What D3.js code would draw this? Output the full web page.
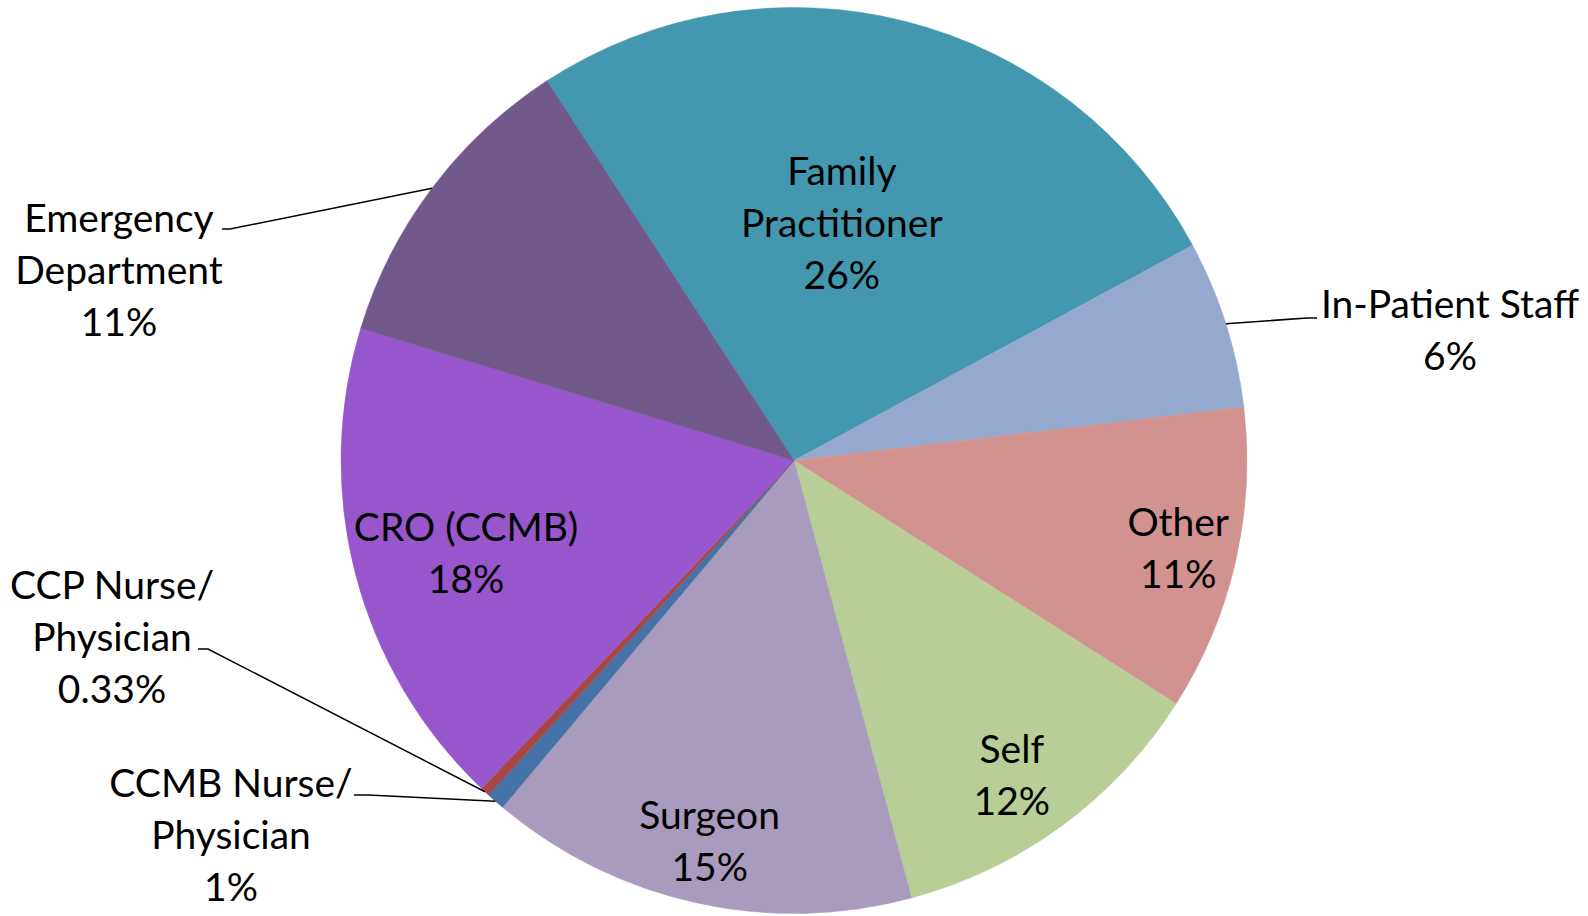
<!DOCTYPE html>
<html>
<head>
<meta charset="utf-8">
<script src="https://cdn.jsdelivr.net/npm/d3@7"></script>
<style>
  html, body { margin: 0; padding: 0; background: #fff; }
  svg { display: block; }
</style>
</head>
<body>
<div id="chart"></div>
<script>
// 紹介元ごとの割合 (%)
const categories = [
  'Family Practitioner',
  'In-Patient Staff',
  'Other',
  'Self',
  'Surgeon',
  'CCMB Nurse/ Physician',
  'CCP Nurse/ Physician',
  'CRO (CCMB)',
  'Emergency Department',
];
const values = [26.3, 6.0, 10.9, 11.8, 15.3, 0.66, 0.33, 17.6, 11.1];
const colors = [
  '#4398AF', '#95A9CF', '#D19290', '#B9CD96', '#A99BBD',
  '#4572A7', '#AA4643', '#9756CB', '#71598C',
];

// ラベルの行分け
const labelLines = {
  'Family Practitioner': ['Family', 'Practitioner'],
  'In-Patient Staff': ['In-Patient Staff'],
  'Other': ['Other'],
  'Self': ['Self'],
  'Surgeon': ['Surgeon'],
  'CCMB Nurse/ Physician': ['CCMB Nurse/', 'Physician'],
  'CCP Nurse/ Physician': ['CCP Nurse/', 'Physician'],
  'CRO (CCMB)': ['CRO (CCMB)'],
  'Emergency Department': ['Emergency', 'Department'],
};

const WIDTH = 1588;
const HEIGHT = 916;
const CX = 794;
const CY = 460.5;
const RADIUS = 453;
const LINE_H = 52;
const FONT_SIZE = 39;

// 円の内側に置くラベル: 中心からの距離 (半径比) と角度の補正 (度)
const insideLabels = {
  'Family Practitioner': { r: 0.535, da: -2.9 },
  'Other': { r: 0.87, da: 0 },
  'Self': { r: 0.845, da: 1.6 },
  'Surgeon': { r: 0.86, da: 0 },
  'CRO (CCMB)': { r: 0.752, da: -1 },
};
// 円の外側に置くラベル: 文字ブロックの中心と引き出し線の折れ位置
const outsideLabels = {
  'In-Patient Staff': { x: 1450, y: 330, kx: 1307, ky: 318, ex: 1317 },
  'Emergency Department': { x: 119, y: 270, kx: 230, ky: 229, ex: 222 },
  'CCP Nurse/ Physician': { x: 112, y: 637, kx: 208, ky: 649, ex: 198 },
  'CCMB Nurse/ Physician': { x: 231, y: 835, kx: 368, ky: 795, ex: 354 },
};

const data = categories.map((name, i) => ({ name, value: values[i], color: colors[i] }));
const total = d3.sum(values);

function formatPercent(v) {
  const p = (v / total) * 100;
  return p < 0.5 ? p.toFixed(2) + '%' : Math.round(p) + '%';
}

const START = (-33.06 * Math.PI) / 180;

const pie = d3
  .pie()
  .sort(null)
  .startAngle(START)
  .endAngle(START + 2 * Math.PI)
  .value((d) => d.value);

const arc = d3.arc().innerRadius(0).outerRadius(RADIUS);

const svg = d3
  .select('#chart')
  .append('svg')
  .attr('width', WIDTH)
  .attr('height', HEIGHT);

const g = svg.append('g').attr('transform', 'translate(' + CX + ',' + CY + ')');

const arcs = pie(data);

g.selectAll('path')
  .data(arcs)
  .enter()
  .append('path')
  .attr('fill', (d) => d.data.color)
  .attr('stroke', (d) => d.data.color)
  .attr('stroke-width', 0.5)
  .attr('d', arc);

function polar(angle, r) {
  return [r * Math.sin(angle), -r * Math.cos(angle)];
}

// ラベル描画
arcs.forEach((d) => {
  const name = d.data.name;
  const lines = labelLines[name].concat([formatPercent(d.data.value)]);
  const mid = (d.startAngle + d.endAngle) / 2;
  let x, y;
  if (insideLabels[name] !== undefined) {
    const o = insideLabels[name];
    [x, y] = polar(mid + (o.da * Math.PI) / 180, RADIUS * o.r);
    x += CX;
    y += CY;
  } else {
    const o = outsideLabels[name];
    x = o.x;
    y = o.y;
    const [px, py] = polar(mid, RADIUS);
    svg
      .append('polyline')
      .attr('points', [[o.ex, o.ky], [o.kx, o.ky], [CX + px, CY + py]].map((p) => p.join(',')).join(' '))
      .attr('fill', 'none')
      .attr('stroke', '#000')
      .attr('stroke-width', 1.5);
  }
  const top = y - ((lines.length - 1) * LINE_H) / 2;
  const text = svg
    .append('text')
    .attr('font-family', 'Lato, "Open Sans", sans-serif')
    .attr('font-size', FONT_SIZE)
    .attr('fill', '#000')
    .attr('text-anchor', 'middle');
  lines.forEach((line, i) => {
    text
      .append('tspan')
      .attr('x', x)
      .attr('y', top + i * LINE_H)
      .attr('dy', '0.36em')
      .text(line);
  });
});
</script>
</body>
</html>
